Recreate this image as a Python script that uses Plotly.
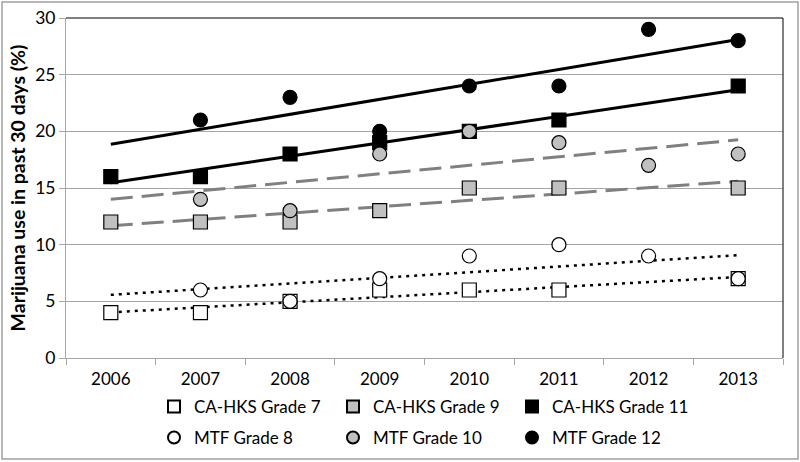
import numpy as np
import plotly.graph_objects as go

years = ["2006", "2007", "2008", "2009", "2010", "2011", "2012", "2013"]

ca_g7 = [4, 4, 5, 6, 6, 6, None, 7]
ca_g9 = [12, 12, 12, 13, 15, 15, None, 15]
ca_g11 = [16, 16, 18, 19, 20, 21, None, 24]
mtf_g8 = [None, 6, 5, 7, 9, 10, 9, 7]
mtf_g10 = [None, 14, 13, 18, 20, 19, 17, 18]
mtf_g12 = [None, 21, 23, 20, 24, 24, 29, 28]

W, H = 800, 462
L, R, T, B = 66, 17, 18, 104
PW, PH = W - L - R, H - T - B

FONT = "Lato"

fig = go.Figure()

def trend(vals, color, dash, width):
    idx = np.array([i + 1 for i, v in enumerate(vals) if v is not None], dtype=float)
    yv = np.array([v for v in vals if v is not None], dtype=float)
    m, b = np.polyfit(idx, yv, 1)
    xs = [years[0], years[-1]]
    ys = [m * 1 + b, m * len(years) + b]
    fig.add_trace(go.Scatter(x=xs, y=ys, mode="lines", showlegend=False,
                             hoverinfo="skip",
                             line=dict(color=color, dash=dash, width=width)))

trend(ca_g7, "black", "3px,5px", 2.5)
trend(mtf_g8, "black", "3px,5px", 2.5)
trend(ca_g9, "#808080", "22px,9px", 3)
trend(mtf_g10, "#808080", "22px,9px", 3)
trend(ca_g11, "black", "solid", 3)
trend(mtf_g12, "black", "solid", 3)

series = [
    ("CA-HKS Grade 7", ca_g7, "square", "white", "legend"),
    ("CA-HKS Grade 9", ca_g9, "square", "#c0c0c0", "legend"),
    ("CA-HKS Grade 11", ca_g11, "square", "black", "legend"),
    ("MTF Grade 8", mtf_g8, "circle", "white", "legend2"),
    ("MTF Grade 10", mtf_g10, "circle", "#c0c0c0", "legend2"),
    ("MTF Grade 12", mtf_g12, "circle", "black", "legend2"),
]
for name, vals, sym, fill, lg in series:
    fig.add_trace(go.Scatter(
        x=years, y=vals, mode="markers", name=name, legend=lg,
        marker=dict(symbol=sym, size=14, color=fill,
                    line=dict(color="black", width=1.2)),
    ))

grid = "#a6a6a6"
leg_common = dict(orientation="h", x=(154 - L) / PW, xanchor="left",
                  yanchor="middle", entrywidth=134, entrywidthmode="pixels",
                  font=dict(size=17), itemsizing="constant",
                  bgcolor="rgba(0,0,0,0)")
fig.update_layout(
    width=W, height=H,
    margin=dict(l=L, r=R, t=T, b=B, autoexpand=False),
    paper_bgcolor="white", plot_bgcolor="white",
    font=dict(family=FONT, size=17, color="black"),
    xaxis=dict(type="category", categoryorder="array", categoryarray=years,
               range=[-0.5, 7.5], tickson="boundaries", automargin=False,
               ticks="outside", ticklen=6, tickcolor=grid, showline=True,
               linecolor=grid, linewidth=1, showgrid=False,
               tickfont=dict(size=17), ticklabelstandoff=6),
    yaxis=dict(range=[0, 30], dtick=5, ticks="outside", ticklen=6,
               tickcolor=grid, showline=True, linecolor=grid, linewidth=1,
               showgrid=True, gridcolor=grid, gridwidth=1, zeroline=False,
               automargin=False, tickfont=dict(size=17.5),
               title=dict(text="<b>Marijuana use in past 30 days (%)</b>",
                          font=dict(size=19.5), standoff=4)),
    legend=dict(y=(358 - 407) / PH, **leg_common),
    legend2=dict(y=(358 - 438) / PH, **leg_common),
    shapes=[
        dict(type="line", xref="paper", yref="paper", x0=0, x1=1, y0=1, y1=1,
             line=dict(color="black", width=1)),
        dict(type="line", xref="paper", yref="paper", x0=1, x1=1, y0=0, y1=1,
             line=dict(color="black", width=1)),
        dict(type="rect", xref="paper", yref="paper",
             x0=(2 - L) / PW, x1=(798 - L) / PW,
             y0=(358 - 459) / PH, y1=(358 - 2) / PH,
             line=dict(color="#a0a0a0", width=1.5)),
    ],
)

fig.write_html("out.html", config={"displayModeBar": False},
               post_script="document.body.style.margin='0';"
                           "document.body.style.overflow='hidden';")
